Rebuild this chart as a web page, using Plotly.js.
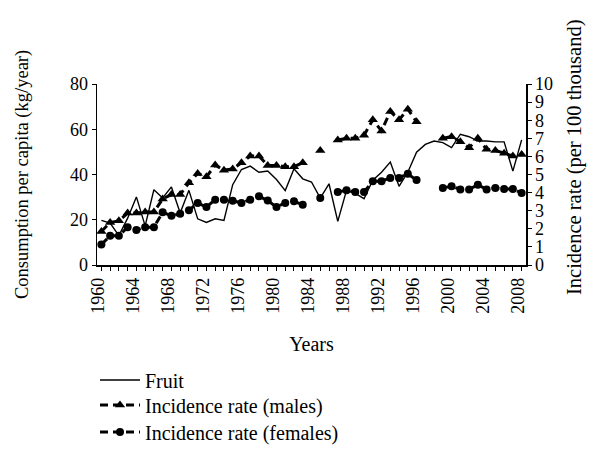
<!DOCTYPE html>
<html>
<head>
<meta charset="utf-8">
<script src="https://cdn.plot.ly/plotly-3.0.1.min.js"></script>
<style>html,body{margin:0;padding:0;background:#fff;}#chart{width:600px;height:463px;}</style>
</head>
<body>
<div id="chart"></div>
<script>
var years = [1960,1961,1962,1963,1964,1965,1966,1967,1968,1969,1970,1971,1972,1973,1974,1975,1976,1977,1978,1979,1980,1981,1982,1983,1984,1985,1986,1987,1988,1989,1990,1991,1992,1993,1994,1995,1996,1997,1998,1999,2000,2001,2002,2003,2004,2005,2006,2007,2008];
var fruit = [19.7,18.5,13,20.7,30.1,17.3,33.3,29.6,34.5,23,33,20.4,18.8,20.4,19.7,35.5,42.2,43.7,41,41.5,37.8,32.9,42.5,38.1,36.7,29.6,35.9,19.3,33,31.6,29.3,37.5,41,45.5,34.8,41,49.9,53.3,54.8,54.1,51.9,57.8,56.7,54.8,54.8,54.4,54.4,41.5,55.3];
var males = [1.85,2.35,2.44,2.87,2.87,2.93,2.93,3.65,3.89,3.89,4.54,5.06,4.87,5.52,5.24,5.31,5.65,6.02,6.02,5.5,5.5,5.43,5.43,5.65,null,6.33,null,6.91,7.0,7.0,7.17,8.02,7.41,8.48,8.02,8.61,7.91,null,null,7.0,7.09,6.81,6.48,7.0,6.39,6.33,6.17,6.02,6.11];
var females = [1.13,1.61,1.61,2.09,1.94,2.09,2.09,2.91,2.72,2.83,3.02,3.43,3.2,3.61,3.61,3.55,3.43,3.61,3.8,3.56,3.2,3.43,3.52,3.33,null,3.7,null,4.04,4.13,4.04,4.04,4.63,4.63,4.81,4.81,5.04,4.69,null,null,4.26,4.35,4.17,4.17,4.44,4.17,4.26,4.2,4.2,3.98];
var names = ['Fruit','Incidence rate (males)','Incidence rate (females)'];
var leftTitle = 'Consumption per capita (kg/year)';
var rightTitle = 'Incidence rate (per 100 thousand)';
var xTitle = 'Years';

var FONT = 'Liberation Serif, Times New Roman, serif';

var traces = [
  {x: years, y: fruit, name: names[0], type: 'scatter', mode: 'lines',
   line: {color: '#000', width: 1.4}, yaxis: 'y', legend: 'legend'},
  {x: years, y: males, name: names[1], type: 'scatter', mode: 'lines+markers',
   line: {color: '#000', width: 3, dash: '8px,5px'},
   marker: {symbol: 'triangle-up', size: 9, color: '#000'},
   connectgaps: false, yaxis: 'y2', legend: 'legend2'},
  {x: years, y: females, name: names[2], type: 'scatter', mode: 'lines+markers',
   line: {color: '#000', width: 3, dash: '8px,5px'},
   marker: {symbol: 'circle', size: 8, color: '#000'},
   connectgaps: false, yaxis: 'y2', legend: 'legend3'}
];

function legendAt(rowY) {
  return {x: 95/600, xref: 'container', xanchor: 'left',
          y: 1 - rowY/463, yref: 'container', yanchor: 'middle',
          font: {family: FONT, size: 20, color: '#000'},
          bgcolor: 'rgba(0,0,0,0)', itemwidth: 40};
}

var layout = {
  width: 600, height: 463,
  margin: {l: 97, r: 74, t: 84, b: 198, pad: 0, autoexpand: false},
  paper_bgcolor: '#fff', plot_bgcolor: '#fff',
  font: {family: FONT, size: 18, color: '#000'},
  showlegend: true,
  legend: legendAt(380),
  legend2: legendAt(405),
  legend3: legendAt(432),
  xaxis: {
    range: [1959.5, 2008.5], tick0: 1960, dtick: 4, automargin: false,
    tickangle: -90, ticks: 'outside', ticklen: 4, tickwidth: 1, tickcolor: '#000',
    minor: {dtick: 1, tick0: 1960, ticks: 'outside', ticklen: 4, tickwidth: 1, tickcolor: '#000'},
    showline: true, linecolor: '#000', linewidth: 1.5,
    showgrid: false, zeroline: false,
    tickfont: {family: FONT, size: 18, color: '#000'},
    ticklabelshift: -3,
    title: {text: xTitle, font: {family: FONT, size: 20, color: '#000'}, standoff: 24}
  },
  yaxis: {
    range: [0, 80], dtick: 20, automargin: false, ticks: 'outside', ticklen: 4, tickwidth: 1, tickcolor: '#000',
    showline: true, linecolor: '#000', linewidth: 1.5,
    showgrid: false, zeroline: false,
    tickfont: {family: FONT, size: 18, color: '#000'}
  },
  yaxis2: {
    range: [0, 10], dtick: 1, overlaying: 'y', side: 'right', anchor: 'x', automargin: false,
    ticks: 'outside', ticklen: 4, tickwidth: 1, tickcolor: '#000',
    showline: true, linecolor: '#000', linewidth: 1.5,
    showgrid: false, zeroline: false,
    tickfont: {family: FONT, size: 18, color: '#000'}
  },
  annotations: [{
    text: leftTitle, xref: 'paper', yref: 'paper',
    x: (22 - 97) / 429, y: (265 - 175) / 181,
    xanchor: 'center', yanchor: 'middle', textangle: -90, showarrow: false,
    font: {family: FONT, size: 18.5, color: '#000'}
  }, {
    text: rightTitle, xref: 'paper', yref: 'paper',
    x: (574 - 97) / 429, y: (265 - 157) / 181,
    xanchor: 'center', yanchor: 'middle', textangle: -90, showarrow: false,
    font: {family: FONT, size: 20.5, color: '#000'}
  }]
};

Plotly.newPlot('chart', traces, layout, {displayModeBar: false, staticPlot: true});
</script>
</body>
</html>
